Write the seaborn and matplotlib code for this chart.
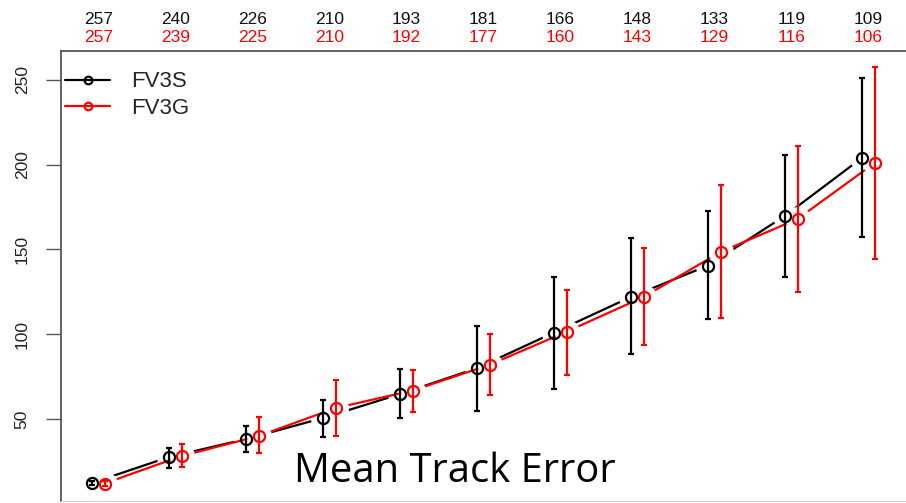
import numpy as np
import pandas as pd
import matplotlib
matplotlib.use("Agg")
import matplotlib.pyplot as plt
import seaborn as sns
from matplotlib.lines import Line2D

# ---- data ----
lead_index = list(range(11))
fv3s_mean = [12.3, 27.6, 38.2, 50.6, 64.7, 80.0, 101.0, 122.0, 140.5, 169.8, 204.0]
fv3s_low  = [11.0, 21.0, 30.5, 39.5, 50.6, 55.0, 68.0, 88.3, 109.0, 133.7, 157.3]
fv3s_high = [13.5, 33.0, 45.9, 61.5, 79.5, 105.0, 134.0, 156.7, 172.6, 205.7, 251.0]
fv3g_mean = [12.0, 28.2, 40.0, 56.5, 66.8, 82.0, 101.5, 122.0, 148.5, 168.0, 201.0]
fv3g_low  = [10.8, 21.7, 30.0, 40.0, 54.0, 64.0, 76.0, 93.6, 109.6, 125.0, 144.3]
fv3g_high = [13.2, 35.3, 51.2, 73.0, 79.0, 100.0, 126.0, 150.8, 188.0, 211.0, 257.5]
fv3s_count = [257, 240, 226, 210, 193, 181, 166, 148, 133, 119, 109]
fv3g_count = [257, 239, 225, 210, 192, 177, 160, 143, 129, 116, 106]
series_names = ["FV3S", "FV3G"]
series_colors = ["black", "red"]
title_text = "Mean Track Error"

sns.set_style("white")
plt.rcParams["font.family"] = ["Liberation Sans", "DejaVu Sans"]

fig = plt.figure(figsize=(9.06, 5.03), dpi=100)
W, H = 906, 503
ax = fig.add_axes([61 / W, 2 / H, (912 - 61) / W, (501 - 51) / H])

offset = 0.165
x = np.array(lead_index, dtype=float)
datasets = [
    (x, fv3s_mean, fv3s_low, fv3s_high, series_colors[0]),
    (x + offset, fv3g_mean, fv3g_low, fv3g_high, series_colors[1]),
]

z = 1
for xs, m, lo, hi, col in datasets:
    df = pd.DataFrame({"x": xs, "y": m})
    sns.lineplot(data=df, x="x", y="y", color=col, lw=1.6, ax=ax, zorder=z, sort=False)
    ax.plot(xs, m, ls="none", marker="o", ms=17, mfc="white", mec="white", zorder=z + 1)
    z += 2

for xs, m, lo, hi, col in datasets:
    m = np.array(m); lo = np.array(lo); hi = np.array(hi)
    ax.errorbar(xs, m, yerr=[m - lo, hi - m], fmt="none", ecolor=col,
                elinewidth=1.6, capsize=2.2, capthick=1.6, zorder=10)
    ax.plot(xs, m, ls="none", marker="o", ms=8, mfc="none", mec=col, mew=1.6, zorder=11)

ax.set_xlim(-0.40, 10.65)
ax.set_ylim(1.7, 267)
ax.set_xlabel("")
ax.set_ylabel("")
ax.set_xticks([])
ax.set_yticks([50, 100, 150, 200, 250])
ax.set_yticklabels(["50", "100", "150", "200", "250"], rotation=90, va="center",
                   fontsize=12.5, color="#222222")
ax.tick_params(axis="y", left=True, length=10.5, width=1.0, color="#555555", pad=12)

for side in ["left", "top"]:
    ax.spines[side].set_color("#555555")
    ax.spines[side].set_linewidth(1.3)
ax.spines["bottom"].set_color("#d0d0d0")
ax.spines["right"].set_visible(False)

trans = matplotlib.transforms.blended_transform_factory(ax.transData, ax.transAxes)
for i in range(len(lead_index)):
    xc = lead_index[i] + offset / 2
    ax.text(xc, 1 + 31 / 450, str(fv3s_count[i]), transform=trans, ha="center",
            va="center", fontsize=12.5, color="#111111")
    ax.text(xc, 1 + 14 / 450, str(fv3g_count[i]), transform=trans, ha="center",
            va="center", fontsize=12.5, color="red")

handles = [Line2D([0], [0], color=c, lw=1.6, marker="o", ms=5.5, mfc="none", mew=1.6)
           for c in series_colors]
ax.legend(handles, series_names, loc="upper left", frameon=False, fontsize=16,
          handlelength=2.0, handletextpad=0.95, labelspacing=0.23,
          bbox_to_anchor=(-16 / 851, 1.0), borderaxespad=0.52, borderpad=0.4)

fig.text(455 / W, 1 - 482 / H, title_text, ha="center", va="baseline",
         fontsize=28.8, family=["Open Sans", "DejaVu Sans"], color="black")

fig.savefig("out.png", dpi=100)
